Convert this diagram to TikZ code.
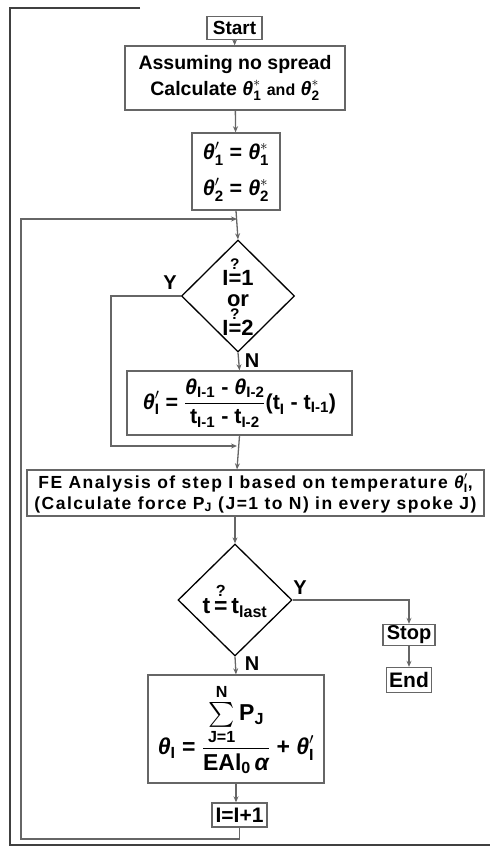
\RequirePackage{fix-cm}
\documentclass[tikz,border=0pt]{standalone}
\usepackage{amsmath}
\usepackage{fontspec}
\setmainfont{Liberation Sans}
\usetikzlibrary{shapes.geometric,arrows.meta}
\newcommand{\Th}{\text{\bfseries\itshape θ}}
\newcommand{\Al}{\text{\bfseries\itshape α}}
\newcommand{\T}[1]{\text{\bfseries #1}}
\newcommand{\qe}{\overset{\T{?}}{\T{=}}}
\begin{document}
\begin{tikzpicture}[x=1pt,y=-1pt,
  box/.style={draw=black!60, line width=1.4pt, inner sep=1pt, align=center, font=\fontsize{17}{20}\selectfont\bfseries},
  dec/.style={diamond, draw=black, line width=1.3pt, inner sep=0pt},
  dtext/.style={align=center, inner sep=0pt, font=\fontsize{22}{21}\selectfont\bfseries},
  lab/.style={font=\fontsize{20}{22}\selectfont\bfseries, inner sep=0pt},
  arr/.style={draw=black!60, line width=1.3pt, -{Stealth[length=6pt,width=5pt]}},
  frame/.style={draw=black!75, line width=1.6pt}]
\useasboundingbox (0,0) rectangle (494,847);
% frame
\draw[frame] (140,8) -- (10,8) -- (10,845) -- (490,845);
% nodes
\node[box, minimum width=55, minimum height=23, font=\fontsize{19}{20}\selectfont\bfseries] (start) at (234.5,28) {Start};
\node[box, minimum width=220, minimum height=64, font=\fontsize{19.5}{26}\selectfont\bfseries] (assume) at (235,78)
  {Assuming no spread\\Calculate $\Th^{*}_{\T{1}}$ {\fontsize{16}{16}\selectfont and} $\Th^{*}_{\T{2}}$};
\node[box, minimum width=88, minimum height=77, font=\fontsize{21.5}{36}\selectfont\bfseries] (init) at (236,171.5)
  {$\Th'_{\T{1}}\T{ = }\Th^{*}_{\T{1}}$\\$\Th'_{\T{2}}\T{ = }\Th^{*}_{\T{2}}$};
\node[dec, minimum width=113, minimum height=112] (d1) at (238,296) {};
\node[dtext] (d1t) at (d1.center) {$\T{I}\qe\T{1}$\\[0pt]or\\[-1pt]$\T{I}\qe\T{2}$};
\node[box, minimum width=225, minimum height=64, font=\fontsize{21.5}{24}\selectfont\bfseries] (f1) at (239.5,403)
  {$\Th'_{\T{I}}\T{ = }\dfrac{\Th_{\T{I-1}}\T{ - }\Th_{\T{I-2}}}{\T{t}_{\T{I-1}}\T{ - }\T{t}_{\T{I-2}}}\T{(t}_{\T{I}}\T{ - t}_{\T{I-1}}\T{)}$};
\coordinate (j2) at (237,446);
\node[box, minimum width=457, minimum height=46, font=\fontsize{17.5}{21}\selectfont\bfseries\addfontfeatures{LetterSpace=8.5}] (fe) at (255.5,493)
  {FE Analysis of step I based on temperature $\Th'_{\T{I}}$,\\(Calculate force P$_{\T{J}}$ (J=1 to N) in every spoke J)};
\node[dec, minimum width=114, minimum height=112] (d2) at (235,600) {};
\node[dtext, font=\fontsize{23}{22}\selectfont\bfseries] (d2t) at (d2.center) {$\T{t}\,\qe\,\T{t}_{\T{last}}$};
\node[box, minimum width=52, minimum height=21, font=\fontsize{20}{20}\selectfont\bfseries] (stop) at (409,635) {Stop};
\node[box, minimum width=45, minimum height=25, font=\fontsize{21}{21}\selectfont\bfseries] (end) at (409,680) {End};
\node[box, minimum width=176, minimum height=108, font=\fontsize{23}{26}\selectfont\bfseries] (f2) at (236,729)
  {$\Th_{\T{I}}\T{ = }\dfrac{\sum\limits_{\T{J=1}}^{\T{N}}\T{P}_{\T{J}}}{\T{EAl}_{\T{0}}\,\Al}\T{ + }\Th'_{\T{I}}$};
\node[box, minimum width=55, minimum height=24, font=\fontsize{21}{21}\selectfont\bfseries] (inc) at (239.5,815) {I=I+1};
% labels
\node[lab] (y1) at (170,283) {Y};
\node[lab] (n1) at (252,361) {N};
\node[lab] (y2) at (300,588) {Y};
\node[lab] (n2) at (252,664) {N};
% connectors
\coordinate (j1) at (237,219);
\coordinate (lb) at (21,839);
\coordinate (lt) at (21,219);
\draw[arr] (start) -- (assume);
\draw[arr] (assume) -- (init);
\draw[arr] (init.south) -- (d1.north);
\draw[arr] (inc.south) |- (lb) -- (lt) -- (j1);
\draw[arr] (d1.south) -- (f1.north);
\draw[arr] (d1.west) -- ++(-70,0) |- (j2);
\draw[arr] (f1.south) -- (fe.north -| j2);
\draw[arr] (fe.south -| d2.north) -- (d2.north);
\draw[arr] (d2.east) -| (stop.north);
\draw[arr] (stop) -- (end);
\draw[arr] (d2.south) -- (f2.north);
\draw[arr] (f2.south) -- (f2.south |- inc.north);
\end{tikzpicture}
\end{document}
